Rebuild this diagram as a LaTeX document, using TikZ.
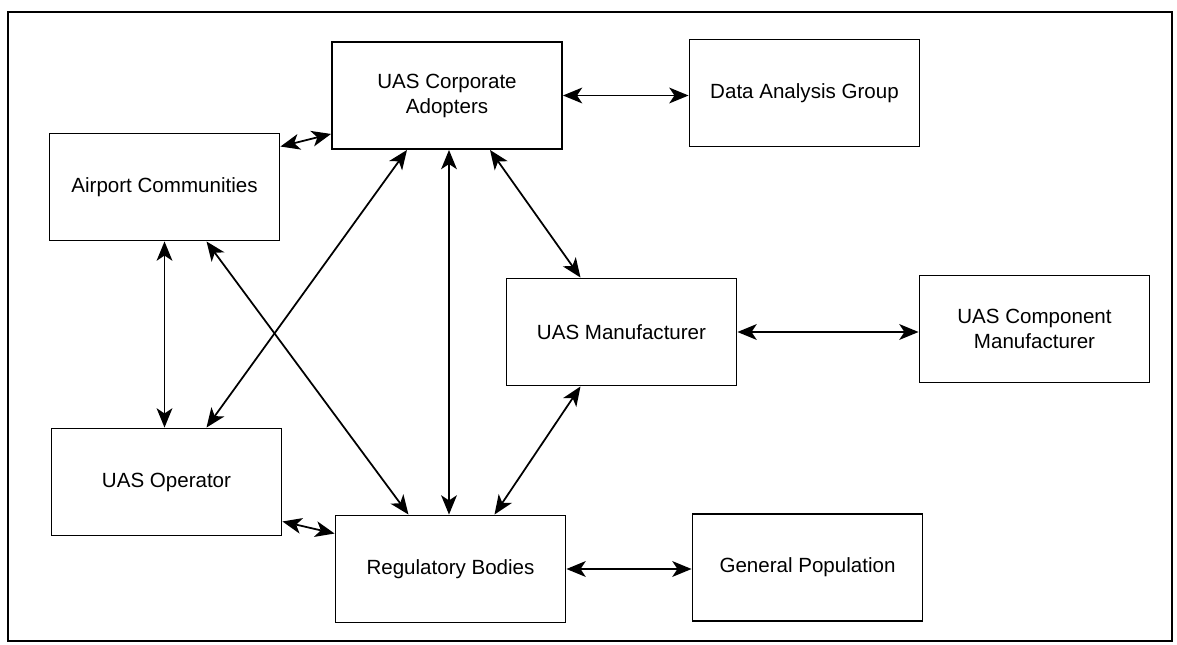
\documentclass[tikz,border=0pt]{standalone}
\usepackage{fontspec}
\setmainfont{Liberation Sans}
\usetikzlibrary{arrows.meta,calc}

\begin{document}
\begin{tikzpicture}[x=0.02cm,y=-0.02cm,
  box/.style={draw,line width=1.1pt,minimum width=4.6cm,minimum height=2.14cm,
    align=center,inner sep=2pt,font=\fontsize{11.7}{14.2}\selectfont},
  link/.style={{Stealth[length=11pt,width=9pt,inset=3pt]}-{Stealth[length=11pt,width=9pt,inset=3pt]},line width=1pt}]
  \useasboundingbox (0,0) rectangle (1177,645);
  \draw[line width=1.1pt] (8,12) rectangle (1172,641);

  \node[box] (C) at (447,95.5) {UAS Corporate\\Adopters};
  \node[box] (D) at (804.5,93) {Data Analysis Group};
  \node[box] (A) at (164.5,187) {Airport Communities};
  \node[box] (M) at (621.5,332) {UAS Manufacturer};
  \node[box] (K) at (1034.5,329) {UAS Component\\Manufacturer};
  \node[box] (O) at (166.5,482) {UAS Operator};
  \node[box] (R) at (450.5,569) {Regulatory Bodies};
  \node[box] (G) at (807.5,567.5) {General Population};

  \draw[link] ($(A.north east)+(0,14)$) -- ($(C.south west)+(0,-16)$);
  \draw[link] (C.east) -- (C.east -| D.west);
  \draw[link] (A.south) -- (A.south |- O.north);
  \draw[link] ($(A.south)+(42,0)$) -- ($(R.north)+(-42,0)$);
  \draw[link] ($(C.south)+(-40,0)$) -- ($(O.north)+(40,0)$);
  \draw[link] ($(C.south)+(2,0)$) -- ($(R.north)+(-1.5,0)$);
  \draw[link] ($(C.south)+(43,0)$) -- ($(M.north)+(-41,0)$);
  \draw[link] ($(M.south)+(-41,0)$) -- ($(R.north)+(44,0)$);
  \draw[link] (M.east) -- (M.east -| K.west);
  \draw[link] ($(O.south east)+(0,-15)$) -- ($(R.north west)+(0,19)$);
  \draw[link] (R.east) -- (R.east -| G.west);
\end{tikzpicture}
\end{document}
